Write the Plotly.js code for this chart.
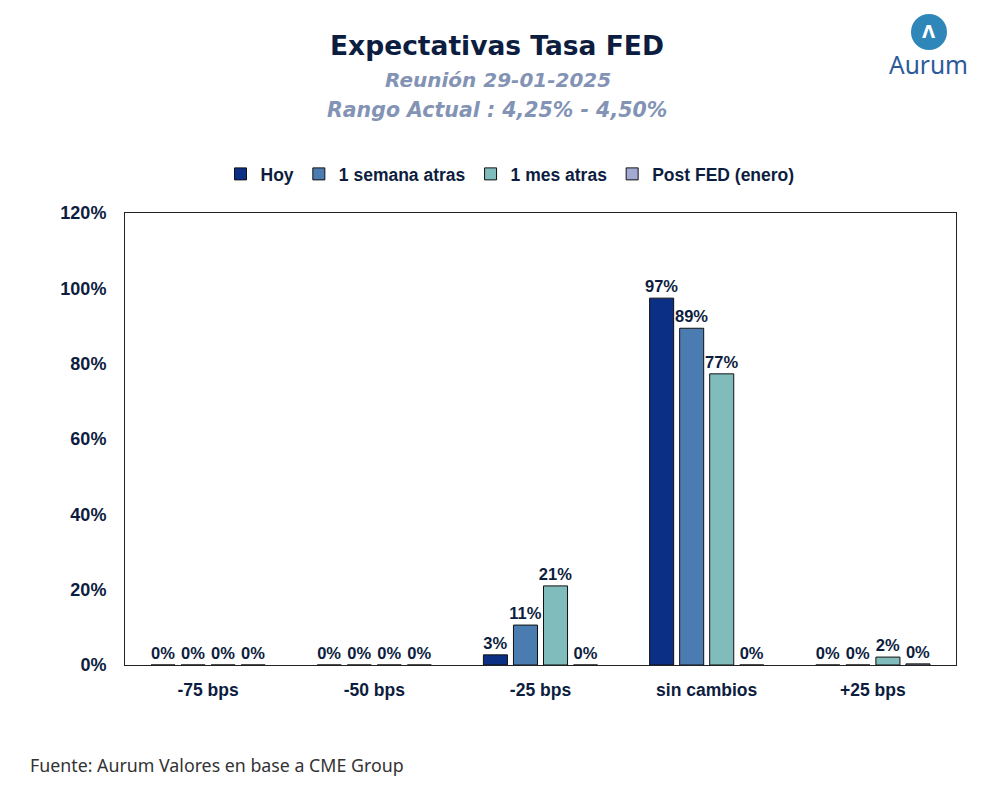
<!DOCTYPE html>
<html>
<head>
<meta charset="utf-8">
<script src="https://cdn.plot.ly/plotly-3.0.1.min.js"></script>
<style>html,body{margin:0;padding:0;background:#fff;}#chart{width:986px;height:807px;}</style>
</head>
<body>
<div id="chart"></div>
<script>
const categories = ["-75 bps", "-50 bps", "-25 bps", "sin cambios", "+25 bps"];
const seriesNames = ["Hoy", "1 semana atras", "1 mes atras", "Post FED (enero)"];
const hoy = [0, 0, 0.027, 0.974, 0];
const semana = [0, 0, 0.106, 0.894, 0];
const mes = [0, 0, 0.21, 0.773, 0.021];
const postFed = [0, 0, 0, 0, 0.003];
const yTicks = [0, 0.2, 0.4, 0.6, 0.8, 1.0, 1.2];
const yTickLabels = ["0%", "20%", "40%", "60%", "80%", "100%", "120%"];

const colors = ["#0b2f84", "#4a7cb2", "#80bcbb", "#a4a9d4"];
const navy = "#0d1d40";
const allSeries = [hoy, semana, mes, postFed];

const traces = allSeries.map((vals, i) => ({
  type: "bar",
  name: "<b>" + seriesNames[i] + "</b>",
  x: categories,
  y: vals,
  marker: {color: colors[i], line: {color: "#111", width: 1}},
  text: vals.map(v => "<b>" + Math.round(v * 100) + "%</b>"),
  textposition: "outside",
  constraintext: "none",
  cliponaxis: false,
  textfont: {family: "Liberation Sans, Arial, sans-serif", size: 16.5, color: navy},
  hoverinfo: "skip"
}));

const W = 986, H = 807, ML = 125, MR = 30, MT = 213, MB = 142;
const pw = W - ML - MR, ph = H - MT - MB;
const px = x => (x - ML) / pw;           // pixel x -> paper
const py = y => (H - MB - y) / ph;       // pixel y (from top) -> paper

function ann(text, x, y, font, xanchor) {
  return {text: text, x: px(x), y: py(y), xref: "paper", yref: "paper", showarrow: false,
          xanchor: xanchor || "center", yanchor: "middle", font: font};
}

const layout = {
  width: W, height: H,
  paper_bgcolor: "#fff", plot_bgcolor: "#fff",
  margin: {l: ML, r: MR, t: MT, b: MB},
  barmode: "group",
  bargap: 0.277,
  bargroupgap: 0.2,
  font: {family: "Liberation Sans, Arial, sans-serif", color: navy},
  showlegend: true,
  legend: {
    orientation: "h", x: px(510), xanchor: "center", y: (H - 174) / H, yanchor: "middle",
    yref: "container",
    font: {size: 17.5, color: navy, family: "Liberation Sans, Arial, sans-serif"},
    traceorder: "normal", itemwidth: 30
  },
  xaxis: {
    showline: true, linecolor: "#222", linewidth: 1, mirror: true,
    ticks: "", showgrid: false,
    tickfont: {size: 17.5, color: navy, weight: 700},
    ticklabelstandoff: 9
  },
  yaxis: {
    range: [0, 1.2], tickvals: yTicks, ticktext: yTickLabels,
    showline: true, linecolor: "#222", linewidth: 1, mirror: true,
    showgrid: false, zeroline: false, ticks: "",
    tickfont: {size: 18, color: navy, weight: 700},
    ticklabelstandoff: 14
  },
  annotations: [
    ann("<b>Expectativas Tasa FED</b>", 497, 46, {size: 26.5, color: navy, family: "DejaVu Sans, sans-serif"}),
    ann("<b><i>Reunión 29-01-2025</i></b>", 498, 80, {size: 20, color: "#8393b5", family: "DejaVu Sans, sans-serif"}),
    ann("<b><i>Rango Actual : 4,25% - 4,50%</i></b>", 497, 110, {size: 20.5, color: "#8393b5", family: "DejaVu Sans, sans-serif"}),
    ann("Fuente: Aurum Valores en base a CME Group", 28, 765, {size: 17.8, color: "#333", family: "Noto Sans, sans-serif"}, "left"),
    ann("Aurum", 928, 64, {size: 24.5, color: "#2b5a9a", family: "Noto Sans, sans-serif"}),
    ann("<b>Λ</b>", 929, 32, {size: 17, color: "#fff", family: "DejaVu Sans, sans-serif"})
  ],
  shapes: [
    {type: "circle", xref: "paper", yref: "paper", x0: px(911), x1: px(947), y0: py(50), y1: py(14),
     fillcolor: "#2f86b8", line: {width: 0}}
  ]
};

Plotly.newPlot("chart", traces, layout, {displayModeBar: false, staticPlot: true});
</script>
</body>
</html>
